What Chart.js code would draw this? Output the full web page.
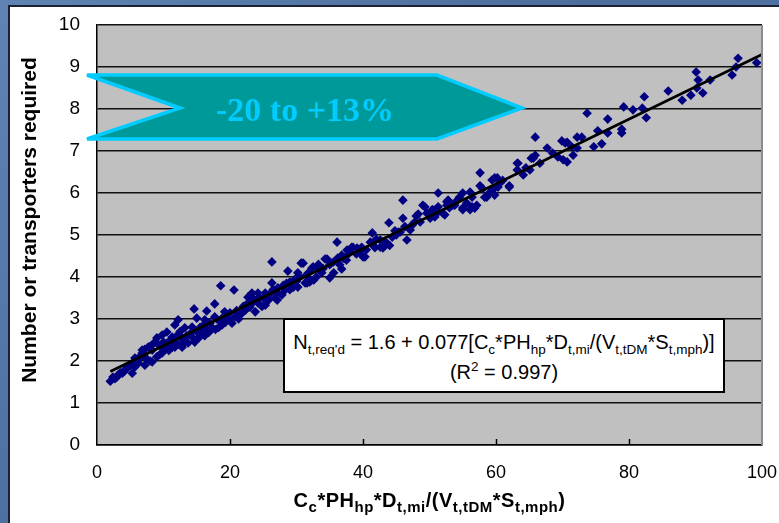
<!DOCTYPE html>
<html>
<head>
<meta charset="utf-8">
<script src="https://cdn.jsdelivr.net/npm/chart.js@4.4.0/dist/chart.umd.min.js"></script>
<style>
  html, body { margin: 0; padding: 0; }
  body {
    width: 779px; height: 523px; overflow: hidden; position: relative;
    background: linear-gradient(135deg, #5f83b3 0%, #4b6e9f 45%, #5577a8 100%);
    font-family: "Liberation Sans", Arial, sans-serif;
  }
  #panel {
    position: absolute; left: 8px; top: 5px; width: 790px; height: 530px;
    background: #fff; border: 2px solid #1c2233; box-sizing: border-box;
  }
  #chartBox { position: absolute; left: 10px; top: 7px; width: 769px; height: 516px; }
  .sub { font-size: 13.5px; vertical-align: -5px; line-height: 0; }
  #eqBox {
    position: absolute; left: 283px; top: 318px; width: 442px; height: 75px;
    box-sizing: border-box; border: 2px solid #000; background: #fff;
    text-align: center; font-size: 20px; line-height: 30px; padding-top: 7px; color: #000;
    white-space: nowrap;
  }
  #xTitle {
    position: absolute; left: 97px; width: 665px; top: 488px; text-align: center;
    font-weight: bold; font-size: 20px; line-height: 24px; color: #000; white-space: nowrap;
    letter-spacing: 0.5px;
  }
  #xTitle .sub { font-size: 15px; vertical-align: -5px; }
  #yTitle {
    position: absolute; left: -171px; top: 208px; width: 400px; text-align: center;
    font-weight: bold; font-size: 21px; line-height: 24px; color: #000;
    transform: rotate(-90deg); white-space: nowrap;
  }
  #arrow { position: absolute; left: 0; top: 0; }
</style>
</head>
<body>
<div id="panel"></div>
<div id="chartBox"><canvas id="myChart" width="769" height="516"></canvas></div>

<div id="yTitle">Number or transporters required</div>
<div id="xTitle">C<span class="sub">c</span>*PH<span class="sub">hp</span>*D<span class="sub">t,mi</span>/(V<span class="sub">t,tDM</span>*S<span class="sub">t,mph</span>)</div>

<div id="eqBox">
  N<span class="sub">t,req'd</span> = 1.6 + 0.077[C<span class="sub">c</span>*PH<span class="sub">hp</span>*D<span class="sub">t,mi</span>/(V<span class="sub">t,tDM</span>*S<span class="sub">t,mph</span>)]<br>
  (R<span style="font-size:13.5px; vertical-align:8px; line-height:0">2</span> = 0.997)
</div>

<svg id="arrow" width="779" height="523">
  <polygon points="87,75 437,75 522,108 437,139 87,139 180,108" fill="#009999" stroke="#00ccff" stroke-width="3.5" stroke-linejoin="miter"/>
  <text x="305" y="109" text-anchor="middle" dominant-baseline="central"
        font-family="Liberation Serif, Times New Roman, serif" font-weight="bold" font-size="34" fill="#00ccff">-20 to +13%</text>
</svg>

<script>
var observed = [
  [2.0,1.52],[2.4,1.62],[2.7,1.58],[3.0,1.62],[3.2,1.67],[3.5,1.72],[3.8,1.71],[4.0,1.74],[4.2,1.79],[4.5,1.83],
  [4.7,1.86],[5.0,1.9],[5.3,1.95],[5.3,1.71],[5.7,2.07],[5.7,1.86],[6.0,2.0],[6.2,1.95],[6.3,2.05],[6.5,2.12],
  [6.8,2.19],[6.8,2.26],[7.0,2.15],[7.2,1.9],[7.2,2.28],[7.5,2.05],[7.7,2.33],[8.0,2.0],[8.0,2.35],[8.3,1.98],
  [8.3,2.26],[8.7,2.45],[9.0,2.55],[9.0,2.1],[9.2,2.4],[9.4,2.15],[9.5,2.35],[9.8,2.19],[9.8,2.62],[10.0,2.45],
  [10.2,2.31],[10.5,2.69],[10.5,2.4],[10.8,2.25],[11.0,2.5],[11.3,2.57],[11.3,2.33],[11.5,2.45],[11.7,2.33],[11.7,2.86],
  [12.0,2.6],[12.2,2.98],[12.2,2.4],[12.5,2.7],[12.8,2.55],[12.8,2.33],[13.0,2.5],[13.2,2.79],[13.2,2.45],[13.5,2.6],
  [13.7,2.43],[14.0,2.65],[14.3,2.57],[14.3,2.81],[14.6,3.24],[14.7,2.45],[15.0,3.02],[15.0,2.7],[15.3,2.55],[15.5,2.8],
  [15.8,2.67],[16.0,2.85],[16.2,2.98],[16.2,2.6],[16.5,3.19],[16.5,2.75],[16.8,2.68],[17.0,2.9],[17.3,2.79],[17.7,3.05],
  [17.7,3.36],[17.8,2.75],[18.0,3.0],[18.3,2.8],[18.5,2.95],[18.6,3.79],[18.8,2.86],[19.0,3.05],[19.2,3.17],[19.3,2.92],
  [19.8,3.0],[20.0,3.15],[20.3,2.9],[20.6,3.69],[20.8,3.05],[21.0,3.2],[21.3,3.0],[21.5,3.1],[21.8,3.14],[22.0,3.3],
  [22.3,3.21],[22.5,3.25],[22.7,3.52],[22.7,3.38],[23.0,3.28],[23.3,3.62],[23.3,3.52],[23.5,3.4],[23.8,3.17],[24.0,3.45],
  [24.2,3.62],[24.2,3.38],[24.5,3.5],[24.8,3.3],[25.0,3.5],[25.3,3.62],[25.3,3.33],[25.5,3.55],[25.8,3.45],[26.0,3.6],
  [26.3,4.36],[26.3,3.86],[26.5,3.7],[26.8,3.5],[27.0,3.65],[27.1,3.45],[27.2,3.74],[27.8,3.57],[28.0,3.8],[28.3,3.69],
  [28.5,3.85],[28.7,4.14],[29.0,3.88],[29.0,3.7],[29.5,3.75],[29.8,3.95],[30.0,3.9],[30.2,4.1],[30.2,3.76],[30.5,4.0],
  [30.7,4.33],[31.0,4.33],[31.3,3.86],[31.5,4.05],[31.6,3.86],[31.8,4.1],[32.0,3.93],[32.0,3.88],[32.3,4.21],[32.5,4.24],
  [32.6,3.93],[33.0,4.0],[33.1,4.24],[33.3,4.3],[33.5,4.17],[33.8,4.1],[34.0,4.2],[34.3,4.43],[34.6,4.43],[35.0,4.29],
  [35.0,3.98],[35.5,4.35],[35.6,4.1],[36.1,4.83],[36.2,4.45],[36.5,4.29],[36.8,4.52],[36.8,4.19],[37.0,4.45],[37.5,4.4],
  [37.6,4.64],[37.8,4.55],[38.0,4.6],[38.3,4.71],[38.5,4.71],[39.0,4.55],[39.1,4.69],[39.5,4.6],[39.8,4.71],[40.0,4.48],
  [40.3,4.48],[40.5,4.65],[41.1,4.83],[41.4,5.05],[41.5,4.76],[41.8,4.7],[42.0,4.9],[42.6,4.71],[42.6,4.88],[43.0,4.69],
  [43.3,4.83],[43.6,4.81],[43.9,5.29],[44.0,4.75],[44.4,4.95],[44.8,5.1],[45.0,5.0],[45.3,5.07],[45.6,5.07],[46.0,5.83],
  [46.0,5.4],[46.3,5.2],[46.6,4.88],[47.1,5.19],[47.1,5.12],[47.4,5.24],[47.8,5.31],[48.0,5.45],[48.3,5.5],[48.6,5.31],
  [49.0,5.71],[49.3,5.67],[49.6,5.52],[50.1,5.4],[50.4,5.6],[50.5,5.6],[50.8,5.43],[51.0,5.5],[51.3,6.0],[51.3,5.67],
  [52.0,5.52],[52.3,5.48],[52.6,5.71],[52.6,5.79],[52.8,5.83],[53.0,5.65],[53.5,5.71],[53.8,5.71],[54.0,5.8],[54.5,5.9],
  [55.0,6.0],[55.0,5.64],[55.0,5.6],[55.6,5.76],[56.1,6.02],[56.1,5.6],[56.4,5.9],[56.4,5.67],[56.8,5.64],[57.1,5.71],
  [57.6,6.48],[57.6,6.17],[58.0,6.1],[58.3,5.9],[58.6,5.9],[59.1,6.02],[59.4,6.31],[59.5,6.07],[59.8,6.36],[59.8,5.95],
  [60.2,6.36],[60.3,6.14],[60.6,6.24],[61.0,6.3],[62.0,6.14],[62.0,6.17],[63.2,6.71],[63.2,6.55],[63.3,6.71],[64.1,6.43],
  [64.5,6.6],[65.1,6.55],[65.3,6.83],[65.6,6.83],[65.9,7.33],[65.9,6.9],[66.6,6.71],[67.7,7.07],[68.5,6.95],[69.3,6.86],
  [69.9,7.24],[70.1,6.79],[70.4,7.19],[70.7,7.21],[70.7,6.74],[71.4,7.1],[71.6,6.9],[72.2,7.33],[72.2,7.07],[72.9,7.33],
  [73.7,7.9],[74.7,7.1],[75.3,7.48],[75.9,7.17],[76.8,7.76],[76.8,7.43],[78.9,7.52],[78.9,7.43],[79.2,8.05],[80.6,7.98],
  [82.0,8.02],[82.3,8.29],[82.6,7.79],[85.9,8.43],[88.0,8.21],[89.3,8.33],[90.1,8.88],[90.2,8.5],[90.4,8.69],[91.1,8.38],
  [92.2,8.69],[95.5,8.81],[96.1,9.0],[96.4,9.21],[99.2,9.1]
];

// Linea de tendencia (extremos)
var trendX = [2, 100];
var trendY = [1.75, 9.3];

// Ejes
var xRange = [0, 100];
var xStep = 20;
var yRange = [0, 10];
var yStep = 1;

function noPadding(scale) {
  scale.paddingTop = 0;
  scale.paddingBottom = 0;
  scale.paddingLeft = 0;
  scale.paddingRight = 0;
}

var plotBg = {
  id: 'plotBg',
  beforeDraw: function(chart) {
    var c = chart.ctx, a = chart.chartArea;
    c.save();
    c.fillStyle = '#c0c0c0';
    c.fillRect(a.left, a.top, a.right - a.left, a.bottom - a.top);
    c.restore();
  },
  afterDraw: function(chart) {
    var c = chart.ctx, a = chart.chartArea, xs = chart.scales.x;
    c.save();
    // borde derecho gris
    c.strokeStyle = '#8c8c8c';
    c.lineWidth = 2;
    c.beginPath();
    c.moveTo(a.right, a.top);
    c.lineTo(a.right, a.bottom);
    c.stroke();
    // marcas internas del eje x
    c.strokeStyle = '#000';
    c.lineWidth = 1.5;
    for (var v = xRange[0] + xStep; v < xRange[1]; v += xStep) {
      var px = Math.round(xs.getPixelForValue(v)) + 0.5;
      c.beginPath();
      c.moveTo(px, a.bottom);
      c.lineTo(px, a.bottom - 6);
      c.stroke();
    }
    c.restore();
  }
};

var ctx = document.getElementById('myChart').getContext('2d');
var myChart = new Chart(ctx, {
  type: 'scatter',
  data: {
    datasets: [{
      type: 'line',
      label: 'Tendencia',
      data: trendX.map(function(x, i) { return { x: x, y: trendY[i] }; }),
      borderColor: '#000',
      borderWidth: 2.8,
      pointRadius: 0,
      fill: false
    }, {
      label: 'Datos',
      data: observed.map(function(p) { return { x: p[0], y: p[1] }; }),
      pointStyle: 'rectRot',
      pointRadius: 4.8,
      backgroundColor: '#000080',
      borderColor: '#000080',
      borderWidth: 0
    }]
  },
  options: {
    responsive: false,
    animation: false,
    layout: { padding: { top: 18, right: 17, left: 0, bottom: 0 } },
    plugins: { legend: { display: false }, tooltip: { enabled: false } },
    scales: {
      x: {
        type: 'linear',
        min: xRange[0], max: xRange[1],
        ticks: { stepSize: xStep, color: '#000', font: { family: 'Liberation Sans', size: 18 }, padding: 17, maxRotation: 0 },
        grid: { drawOnChartArea: false, drawTicks: false },
        border: { color: '#000', width: 1.5 },
        afterFit: function(scale) { scale.height = 78; noPadding(scale); }
      },
      y: {
        min: yRange[0], max: yRange[1],
        ticks: { stepSize: yStep, color: '#000', font: { family: 'Liberation Sans', size: 19 }, padding: 17 },
        grid: { color: '#111', lineWidth: 1.5, drawTicks: false },
        border: { color: '#000', width: 1.5 },
        afterFit: function(scale) { scale.width = 87; noPadding(scale); }
      }
    }
  },
  plugins: [plotBg]
});
</script>
</body>
</html>
